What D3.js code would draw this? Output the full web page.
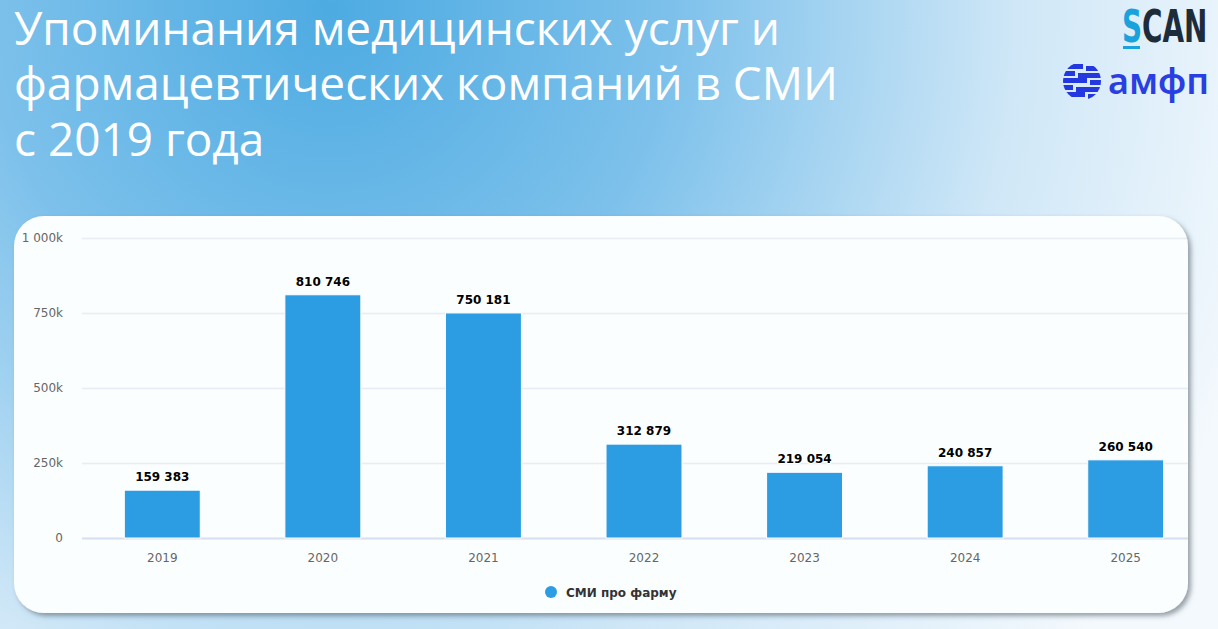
<!DOCTYPE html>
<html>
<head>
<meta charset="utf-8">
<script src="https://cdn.jsdelivr.net/npm/d3@7"></script>
<style>
  html, body { margin: 0; padding: 0; overflow: hidden; }
  body { width: 1218px; height: 629px; }
</style>
</head>
<body>
<div id="chart"></div>
<script>
// ---- data ----
const years = ["2019", "2020", "2021", "2022", "2023", "2024", "2025"];
const mentions = [159383, 810746, 750181, 312879, 219054, 240857, 260540];
const yTicks = [0, 250000, 500000, 750000, 1000000];
const yTickLabels = ["0", "250k", "500k", "750k", "1 000k"];
const seriesName = "СМИ про фарму";
const titleLines = ["Упоминания медицинских услуг и", "фармацевтических компаний в СМИ", "с 2019 года"];

const W = 1218, H = 629;
const barColor = "#2c9ce3";
const ru = d3.formatLocale({ decimal: ",", thousands: " ", grouping: [3], currency: ["", ""] });
const fmt = ru.format(",");

const svg = d3.select("#chart").append("svg")
    .attr("width", W)
    .attr("height", H);

const defs = svg.append("defs");

// background: soft blue glow from the top left
const bg = defs.append("radialGradient")
    .attr("id", "bg")
    .attr("gradientUnits", "userSpaceOnUse")
    .attr("cx", 330).attr("cy", 10).attr("r", 980);
bg.append("stop").attr("offset", "0").attr("stop-color", "#4dabe2");
bg.append("stop").attr("offset", "0.35").attr("stop-color", "#7dc1eb");
bg.append("stop").attr("offset", "0.7").attr("stop-color", "#cfe7f7");
bg.append("stop").attr("offset", "1").attr("stop-color", "#f4f9fd");

const shadow = defs.append("filter").attr("id", "shadow")
    .attr("x", "-5%").attr("y", "-5%").attr("width", "110%").attr("height", "115%");
shadow.append("feDropShadow")
    .attr("dx", 3).attr("dy", 3).attr("stdDeviation", 2.5)
    .attr("flood-color", "#4a5560").attr("flood-opacity", 0.55);

svg.append("rect").attr("width", W).attr("height", H).attr("fill", "url(#bg)");

// title, fitted to the width seen in the picture
const title = svg.append("g").attr("class", "title");
const titleBase = [45, 100, 156];
title.selectAll("text")
    .data(titleLines)
    .enter()
    .append("text")
    .attr("x", 14)
    .attr("y", (d, i) => titleBase[i])
    .attr("fill", "#ffffff")
    .attr("font-family", "'Open Sans', 'Noto Sans', sans-serif")
    .attr("font-size", 44)
    .text(d => d);
const firstLen = title.select("text").node().getComputedTextLength();
title.selectAll("text").attr("font-size", 44 * 766 / firstLen);

// logos
const scan = svg.append("g").attr("class", "logo-scan")
    .attr("transform", "translate(1122,42) scale(1,1.45)");
const scanFont = "'DejaVu Sans Condensed', 'Liberation Sans Narrow', sans-serif";
scan.append("text")
    .attr("x", 0).attr("y", 0)
    .attr("font-family", scanFont)
    .attr("font-weight", "bold")
    .attr("font-size", 31)
    .attr("fill", "#1aa2dc")
    .text("S");
scan.append("text")
    .attr("x", 20).attr("y", 0)
    .attr("font-family", scanFont)
    .attr("font-weight", "bold")
    .attr("font-size", 31)
    .attr("fill", "#1d2c3a")
    .text("CAN");
svg.append("rect").attr("x", 1123).attr("y", 46).attr("width", 17).attr("height", 3).attr("fill", "#1aa2dc");

const amfp = svg.append("g").attr("class", "logo-amfp");
defs.append("clipPath").attr("id", "globe")
    .append("circle").attr("cx", 1082).attr("cy", 81).attr("r", 19);
const stripes = amfp.append("g").attr("clip-path", "url(#globe)");
[-17, -10, -3, 4, 11].forEach((dy, i) => {
    const cut = [1084, 1076, 1088, 1074, 1086][i];
    stripes.append("rect").attr("x", 1060).attr("y", 81 + dy).attr("width", cut - 1061).attr("height", 5).attr("fill", "#2338e0");
    stripes.append("rect").attr("x", cut + 2).attr("y", 81 + dy + 2).attr("width", 1104 - cut).attr("height", 5).attr("fill", "#2338e0");
});
amfp.append("text")
    .attr("x", 1108).attr("y", 94)
    .attr("fill", "#2a3fe2")
    .attr("font-family", "'Noto Sans', sans-serif")
    .attr("font-weight", 600)
    .attr("font-size", 36)
    .text("амфп");

// card
svg.append("rect")
    .attr("x", 14).attr("y", 216)
    .attr("width", 1174).attr("height", 397)
    .attr("rx", 30).attr("ry", 30)
    .attr("fill", "#fbfeff")
    .attr("filter", "url(#shadow)");

defs.append("clipPath").attr("id", "cardclip")
    .append("rect").attr("x", 14).attr("y", 216).attr("width", 1174).attr("height", 397).attr("rx", 30);

const chart = svg.append("g").attr("clip-path", "url(#cardclip)");

// scales
const x = d3.scaleBand()
    .domain(years)
    .range([82, 1206])
    .paddingInner(0.527)
    .paddingOuter(0.2635);

const y = d3.scaleLinear()
    .domain([0, 1000000])
    .range([538, 238]);

// grid + y labels
chart.append("g").attr("class", "grid")
    .selectAll("line")
    .data(yTicks)
    .enter()
    .append("line")
    .attr("x1", 82).attr("x2", 1188)
    .attr("y1", d => y(d) + 0.5).attr("y2", d => y(d) + 0.5)
    .attr("stroke", d => d === 0 ? "#d6def0" : "#e8ecf3")
    .attr("stroke-width", d => d === 0 ? 2 : 1.5);

const yAxis = chart.append("g").attr("class", "y-axis")
    .attr("transform", "translate(63,0)")
    .call(d3.axisLeft(y).tickValues(yTicks).tickSize(0).tickPadding(0)
        .tickFormat((d, i) => yTickLabels[i]));
yAxis.select(".domain").remove();
yAxis.selectAll("text")
    .attr("fill", "#666666")
    .attr("font-family", "'DejaVu Sans', Verdana, sans-serif")
    .attr("font-size", 12)
    .attr("dy", "0.32em");

// bars
chart.append("g").attr("class", "bars")
    .selectAll("rect")
    .data(mentions)
    .enter()
    .append("rect")
    .attr("x", (d, i) => x(years[i]))
    .attr("y", d => y(d))
    .attr("width", x.bandwidth())
    .attr("height", d => y(0) - y(d))
    .attr("fill", barColor)
    .attr("stroke", "#ffffff")
    .attr("stroke-width", 1);

// data labels
chart.append("g").attr("class", "labels")
    .selectAll("text")
    .data(mentions)
    .enter()
    .append("text")
    .attr("x", (d, i) => x(years[i]) + x.bandwidth() / 2)
    .attr("y", d => y(d) - 9)
    .attr("text-anchor", "middle")
    .attr("font-family", "'DejaVu Sans', Verdana, sans-serif")
    .attr("font-weight", "bold")
    .attr("font-size", 12)
    .attr("fill", "#000000")
    .attr("stroke", "#ffffff")
    .attr("stroke-width", 2)
    .attr("paint-order", "stroke")
    .text(d => fmt(d));

// x axis
const xAxis = chart.append("g").attr("class", "x-axis")
    .attr("transform", "translate(0,539)")
    .call(d3.axisBottom(x).tickSize(0).tickPadding(14));
xAxis.select(".domain").remove();
xAxis.selectAll("text")
    .attr("fill", "#666666")
    .attr("font-family", "'DejaVu Sans', Verdana, sans-serif")
    .attr("font-size", 12);

// legend
const legend = chart.append("g").attr("class", "legend");
legend.append("circle").attr("cx", 551).attr("cy", 592).attr("r", 6).attr("fill", barColor);
legend.append("text")
    .attr("x", 566).attr("y", 596.5)
    .attr("fill", "#333333")
    .attr("font-family", "'DejaVu Sans', Verdana, sans-serif")
    .attr("font-weight", "bold")
    .attr("font-size", 12)
    .text(seriesName);
</script>
</body>
</html>
